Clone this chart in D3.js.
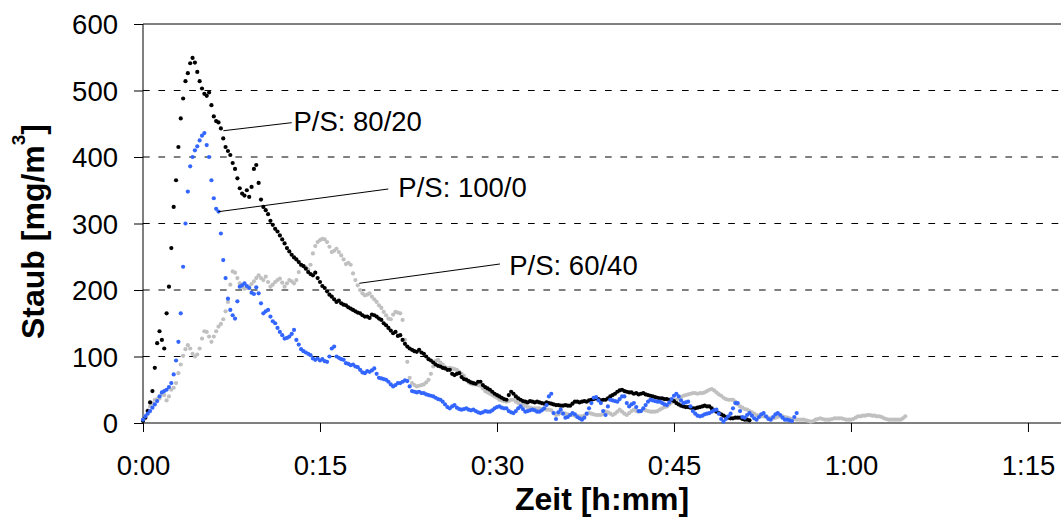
<!DOCTYPE html>
<html>
<head>
<meta charset="utf-8">
<script src="https://cdn.jsdelivr.net/npm/d3@7"></script>
<style>
  html, body { margin: 0; padding: 0; background: #fff; }
  svg { display: block; }
  text { font-family: "Liberation Sans", Arial, sans-serif; }
</style>
</head>
<body>
<svg id="chart" width="1062" height="519"></svg>
<script>
// ---------------- data (time in minutes, sampling step below) ----------------
const stepMinutes = 0.2;

// P/S: 80/20 (black)
const ps8020 = [
3,8,18,31,48,83,120,138,125,112,165,205,263,325,365,415,458,488,514,526,
541,549,542,528,514,503,495,492,497,478,461,454,452,443,428,415,409,403,391,382,
368,353,345,342,350,340,355,382,388,361,336,325,320,314,304,298,292,288,282,276,
270,263,258,253,249,246,242,238,236,232,227,224,222,226,218,212,206,203,198,193,
190,186,182,184,180,178,177,174,172,170,168,166,165,162,160,160,158,163,162,160,
157,155,150,147,143,139,135,137,131,132,125,119,115,112,110,108,107,110,106,104,
100,96,94,91,88,86,85,83,82,80,80,74,72,74,75,69,66,65,63,61,
60,59,62,62,57,54,52,50,47,44,42,40,38,36,35,42,47,44,40,37,
35,33,32,31,33,32,31,32,31,30,29,31,30,29,28,27,27,26,26,27,
26,26,29,32,32,31,32,33,32,34,35,36,37,36,34,35,35,37,40,42,
44,47,49,50,48,47,46,46,44,45,43,44,45,43,42,41,40,39,38,37,
37,36,36,35,35,33,30,28,26,25,24,24,23,22,22,23,24,25,26,25,
25,22,19,17,15,13,11,9,8,7,7,8,8,8,6,5,5,4
];

// P/S: 100/0 (blue)
const ps1000 = [
5,10,14,18,23,28,33,40,46,48,50,54,60,73,94,122,165,235,300,348,
386,400,410,416,425,432,436,418,400,365,338,322,318,285,245,218,187,170,162,157,
183,205,207,210,206,203,196,194,204,195,180,165,168,170,160,153,150,143,137,132,
127,128,130,134,140,125,118,111,108,106,104,102,97,95,97,94,96,93,92,100,
112,115,100,98,96,95,90,89,87,88,85,84,80,76,75,78,77,79,82,74,
68,67,66,65,62,58,55,57,60,60,62,64,63,55,48,47,46,47,45,45,
43,42,41,40,38,36,35,32,28,24,22,25,27,23,21,20,21,22,20,19,
20,18,16,15,16,18,17,17,19,22,24,25,23,22,22,18,16,15,18,22,
25,21,17,18,19,20,19,17,17,19,22,27,40,44,15,6,16,20,14,8,
9,12,15,13,9,7,5,8,14,22,30,38,39,34,30,18,12,25,35,34,
33,32,36,40,40,30,25,28,30,24,18,18,22,27,32,35,34,33,32,32,
30,28,27,31,36,41,44,40,34,30,31,32,25,18,14,11,10,11,13,14,
15,17,19,20,14,6,2,6,10,14,22,30,30,18,9,8,12,15,11,7,
5,9,13,15,10,6,5,9,13,15,12,8,5,5,4,3,9,15
];

// P/S: 60/40 (grey)
const ps6040 = [
4,11,19,25,30,35,36,37,43,42,34,40,50,53,60,75,88,101,111,117,
112,104,100,103,112,127,138,137,130,122,130,138,145,149,156,168,182,208,228,226,
218,210,205,202,203,205,209,213,218,222,218,215,220,212,205,208,212,215,217,211,
205,210,215,213,210,215,227,237,236,234,231,238,255,266,272,275,277,276,272,265,
257,259,262,257,252,246,239,241,238,225,215,207,200,195,192,193,195,190,186,182,
177,173,167,162,157,156,163,167,166,165,155,125,92,68,60,57,55,56,57,58,
61,65,74,85,93,95,91,88,84,82,83,82,81,80,77,74,71,66,61,59,
58,58,57,56,52,48,46,44,42,40,38,35,34,33,32,33,35,35,32,30,
28,27,26,24,23,22,22,22,22,21,21,20,20,19,15,12,13,15,15,14,
13,12,12,11,11,10,10,11,13,15,14,13,12,12,12,14,17,16,14,12,
14,17,20,17,14,12,15,18,20,18,17,18,20,19,18,17,17,17,18,20,
22,24,25,28,31,34,35,37,39,41,42,43,44,45,45,44,45,45,46,48,
50,51,49,46,43,41,38,36,35,35,35,32,28,25,23,21,20,18,16,14,
12,11,10,10,9,8,7,7,8,9,10,10,9,8,7,6,6,5,5,5,
5,4,3,2,3,5,6,7,6,5,5,5,6,7,7,7,7,6,5,5,
5,6,8,10,10,11,11,12,12,11,11,10,10,9,7,6,5,5,5,5,
5,5,7,10
];

const seriesNames = ["P/S: 60/40", "P/S: 80/20", "P/S: 100/0"];
const seriesData = [ps6040, ps8020, ps1000];
const seriesColors = ["#c0c0c0", "#000000", "#3366ff"];

// axis ticks
const yTicks = [0, 100, 200, 300, 400, 500, 600];
const xTicks = [0, 15, 30, 45, 60, 75];   // minutes
const xMax = 77.8;

// annotation callouts (data units: minutes, mg/m3)
const annoText   = ["P/S: 80/20", "P/S: 100/0", "P/S: 60/40"];
const annoFrom   = [[6.81, 439.5], [6.38, 317.7], [18.33, 210.1]];
const annoTo     = [[12.60, 451.6], [20.79, 351.9], [30.25, 239.1]];
const annoLabel  = [[12.75, 439.5], [21.64, 339.4], [31.04, 222.6]];

// ---------------- drawing ----------------
const svg = d3.select("#chart");
const pLeft = 143, pRight = 1061, pTop = 24, pBottom = 423;

const x = d3.scaleLinear().domain([0, xMax]).range([pLeft, pRight]);
const y = d3.scaleLinear().domain([0, 600]).range([pBottom, pTop]);

const fmtTime = m => Math.floor(m / 60) + ":" + String(m % 60).padStart(2, "0");

// grid lines
svg.append("g").selectAll("line")
  .data(yTicks.filter(v => v > 0))
  .join("line")
  .attr("x1", pLeft).attr("x2", pRight)
  .attr("y1", d => y(d)).attr("y2", d => y(d))
  .attr("stroke", "#000").attr("stroke-width", 1)
  .attr("stroke-dasharray", d => d === 600 ? null : "6.7,8.7");

// y axis
const yAxis = d3.axisLeft(y).tickValues(yTicks).tickSize(9).tickPadding(16).tickFormat(d3.format("d"));
const gy = svg.append("g").attr("transform", `translate(${pLeft},0)`).call(yAxis);
gy.select(".domain").attr("stroke", "#000").attr("d", `M0,${pTop}V${pBottom}`);
gy.selectAll(".tick line").attr("stroke", "#000");
gy.selectAll(".tick text").attr("font-size", "27.5px").attr("fill", "#000")
  .attr("font-family", '"Liberation Sans", Arial, sans-serif').attr("dy", "0.36em");

// x axis
const xAxis = d3.axisBottom(x).tickValues(xTicks).tickSize(9).tickPadding(23).tickFormat(fmtTime);
const gx = svg.append("g").attr("transform", `translate(0,${pBottom})`).call(xAxis);
gx.select(".domain").attr("stroke", "#000").attr("d", `M${pLeft},0H${pRight}`);
gx.selectAll(".tick line").attr("stroke", "#000");
gx.selectAll(".tick text").attr("font-size", "27.5px").attr("fill", "#000")
  .attr("font-family", '"Liberation Sans", Arial, sans-serif').attr("dy", "0.71em");

// series as dense markers
seriesData.forEach((arr, si) => {
  svg.append("g").attr("class", "series").attr("data-name", seriesNames[si])
    .selectAll("circle")
    .data(arr)
    .join("circle")
    .attr("cx", (d, i) => x(i * stepMinutes))
    .attr("cy", d => y(d))
    .attr("r", 2.1)
    .attr("fill", seriesColors[si]);
});

// annotations
const ga = svg.append("g");
annoText.forEach((t, i) => {
  ga.append("line")
    .attr("x1", x(annoFrom[i][0])).attr("y1", y(annoFrom[i][1]))
    .attr("x2", x(annoTo[i][0])).attr("y2", y(annoTo[i][1]))
    .attr("stroke", "#000").attr("stroke-width", 1);
  ga.append("text")
    .attr("x", x(annoLabel[i][0])).attr("y", y(annoLabel[i][1]))
    .attr("font-size", "27.5px").attr("fill", "#000")
    .text(t);
});

// axis titles
svg.append("text")
  .attr("x", (pLeft + pRight) / 2).attr("y", 510)
  .attr("text-anchor", "middle")
  .attr("font-size", "32px").attr("font-weight", "bold")
  .text("Zeit [h:mm]");

const yt = svg.append("text")
  .attr("transform", `translate(44,${(pTop + pBottom) / 2 + 8}) rotate(-90)`)
  .attr("text-anchor", "middle")
  .attr("font-size", "32px").attr("font-weight", "bold");
yt.append("tspan").text("Staub [mg/m");
yt.append("tspan").attr("font-size", "19px").attr("dy", -19).text("3");
yt.append("tspan").attr("dy", 19).text("]");
</script>
</body>
</html>
